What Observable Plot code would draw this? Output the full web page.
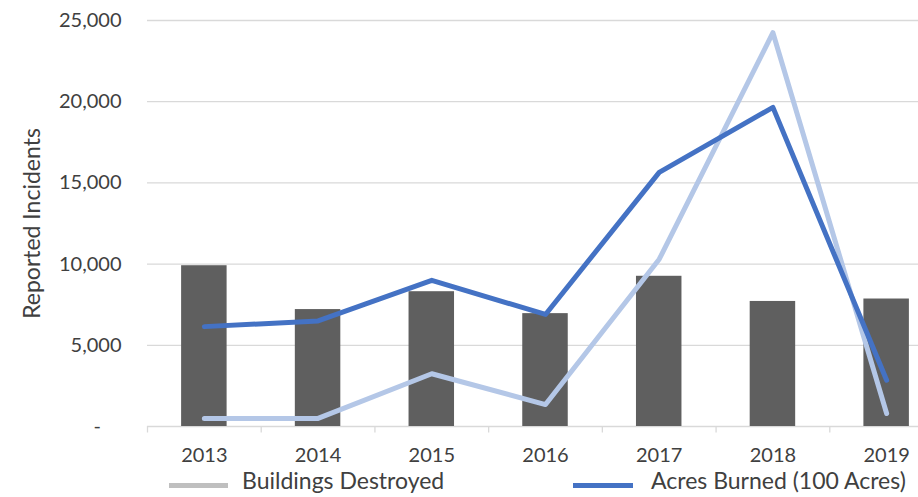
<!DOCTYPE html>
<html>
<head>
<meta charset="utf-8">
<script src="https://cdn.jsdelivr.net/npm/d3@7"></script>
<script src="https://cdn.jsdelivr.net/npm/@observablehq/plot@0.6"></script>
<style>
  html, body { margin: 0; padding: 0; background: #fff; }
  #wrap { position: relative; width: 918px; height: 497px; overflow: hidden; font-family: Lato, "Open Sans", sans-serif; }
  #chart svg { overflow: hidden; }
  #legend { position: absolute; left: 0; top: 466px; width: 918px; height: 31px; }
  .sw { position: absolute; height: 5px; top: 17px; }
  .lt { position: absolute; top: 1px; font-size: 23px; color: #404040; line-height: 26px; white-space: nowrap; }
</style>
</head>
<body>
<div id="wrap">
  <div id="chart"></div>
  <div id="legend"></div>
</div>
<script>
const years = ["2013", "2014", "2015", "2016", "2017", "2018", "2019"];
const incidents = [9900, 7200, 8300, 6950, 9250, 7700, 7850];
const buildingsDestroyed = [500, 500, 3250, 1350, 10300, 24250, 800];
const acresBurned = [6150, 6500, 9000, 6900, 15650, 19650, 2850];
const yTicks = [0, 5000, 10000, 15000, 20000, 25000];
const legendItems = [
  {label: "Buildings Destroyed", color: "#bfbfbf", swX: 169, swW: 59, textX: 242},
  {label: "Acres Burned (100 Acres)", color: "#4472c4", swX: 573, swW: 60, textX: 651}
];

const barColor = "#5f5f5f";
const lightBlue = "#b4c7e7";
const darkBlue = "#4472c4";
const gridColor = "#d9d9d9";
const textColor = "#404040";

const rows = years.map((y, i) => ({
  year: y,
  incidents: incidents[i],
  buildings: buildingsDestroyed[i],
  acres: acresBurned[i]
}));

const W = 918, ML = 147, MR = -25;
const step = (W - MR - ML) / years.length;
const fmt = d3.format(",");

const chart = Plot.plot({
  width: W,
  height: 466,
  marginTop: 20,
  marginBottom: 40,
  marginLeft: ML,
  marginRight: MR,
  style: {fontFamily: "Lato, 'Open Sans', sans-serif", fontSize: "20px", color: textColor, background: "#fff"},
  x: {type: "band", domain: years, paddingInner: 0.6, paddingOuter: 0.3, round: false, label: null},
  y: {domain: [0, 25000], label: null},
  marks: [
    Plot.ruleY(yTicks.filter(d => d > 0), {stroke: gridColor, strokeWidth: 1.3}),
    Plot.ruleY([0], {stroke: gridColor, strokeWidth: 1.3}),
    Plot.ruleX(years, {x: d => d, dx: -step / 2, y1: 0, y2: -400, stroke: gridColor, strokeWidth: 1.3}),
    Plot.barY(rows, {x: "year", y: "incidents", fill: barColor}),
    Plot.line(rows, {x: "year", y: "buildings", stroke: lightBlue, strokeWidth: 5, strokeLinecap: "round", strokeLinejoin: "round"}),
    Plot.line(rows, {x: "year", y: "acres", stroke: darkBlue, strokeWidth: 5, strokeLinecap: "round", strokeLinejoin: "round"}),
    Plot.axisX({tickSize: 0, tickPadding: 21, fontSize: 20, fill: textColor, label: null}),
    Plot.axisY(yTicks, {tickSize: 0, tickPadding: 26, fontSize: 20, fill: textColor, label: null,
      tickFormat: d => d === 0 ? "-\u00a0\u00a0\u00a0\u00a0" : fmt(d)}),
    Plot.text(["Reported Incidents"], {frameAnchor: "left", dx: -115, rotate: -90, fontSize: 23, fill: textColor, textAnchor: "middle", lineAnchor: "middle"})
  ]
});
document.getElementById("chart").appendChild(chart);

const legend = document.getElementById("legend");
for (const it of legendItems) {
  const sw = document.createElement("div");
  sw.className = "sw";
  sw.style.left = it.swX + "px";
  sw.style.width = it.swW + "px";
  sw.style.background = it.color;
  legend.appendChild(sw);
  const t = document.createElement("div");
  t.className = "lt";
  t.style.left = it.textX + "px";
  t.textContent = it.label;
  legend.appendChild(t);
}
</script>
</body>
</html>
